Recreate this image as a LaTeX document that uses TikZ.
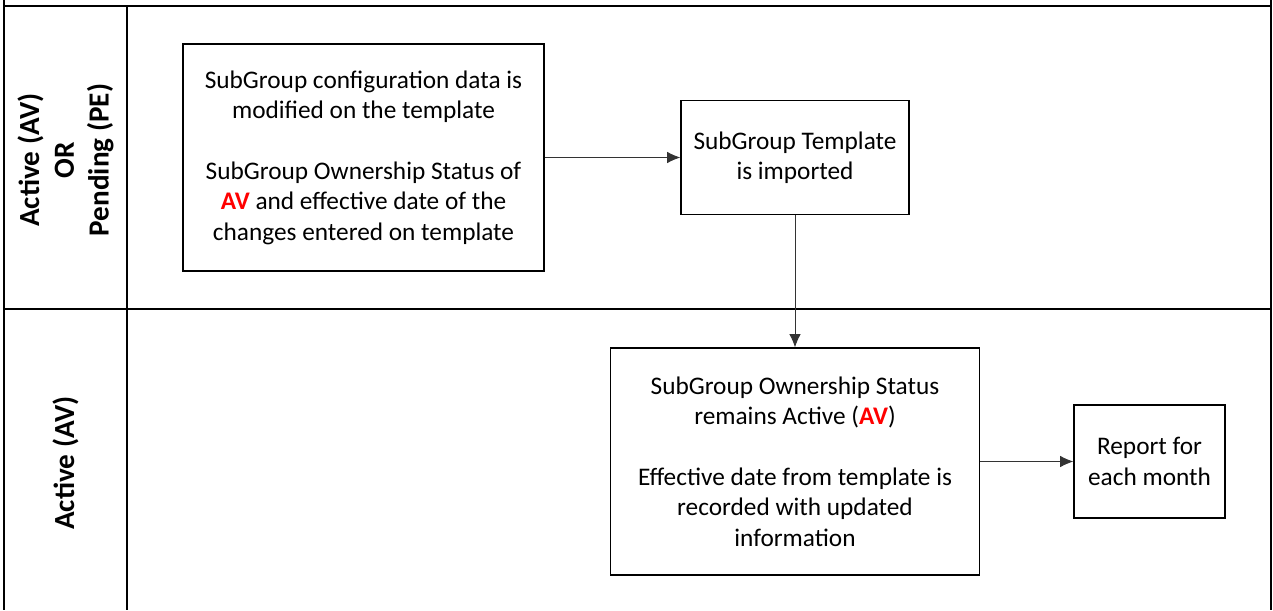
\documentclass[tikz,border=0pt]{standalone}
\usepackage{fontspec}
\setmainfont{Carlito}
\usepackage{xcolor}
\usetikzlibrary{arrows.meta}

\tikzset{
	step box/.style={draw, line width=0.7pt, align=center, inner sep=0pt},
	flow/.style={-{Latex[length=7.5pt,width=6.5pt]}, line width=0.5pt, draw=black!80},
	lane/.style={line width=1.1pt},
	lane label/.style={rotate=90, align=center, font=\fontsize{16.6}{19.8}\selectfont\bfseries}
}
\newcommand{\av}{{\color{red}\bfseries AV}}

\begin{document}
\begin{tikzpicture}[font=\fontsize{14.4}{17.3}\selectfont]
		\useasboundingbox (0,0) rectangle (25.46,12.2);
		% swimlanes
		\draw[lane] (0.08,12.2) -- (0.08,0);
		\draw[lane] (25.42,12.2) -- (25.42,0);
		\draw[lane] (0.08,12.08) -- (25.42,12.08);
		\draw[lane] (0.08,6.02) -- (25.42,6.02);
		\draw[lane] (2.54,12.08) -- (2.54,0);
		\node[lane label] (top lane) at (1.31,9.0){Active (AV)\\ OR\\ Pending (PE)};
		\node[lane label] (bottom lane) at (1.31,2.94){Active (AV)};
		% steps
		\node[step box, minimum width=7.22cm, minimum height=4.54cm] (modified) at (7.27,9.05){SubGroup configuration data is\\
			modified on the template\\[17.3pt]
			SubGroup Ownership Status of\\
			\av{} and effective date of the\\
			changes entered on template};
		\node[step box, minimum width=4.56cm, minimum height=2.28cm] (imported) at (15.9,9.05){SubGroup Template\\
			is imported};
		\node[step box, minimum width=7.38cm, minimum height=4.54cm] (remains) at (15.9,2.97){SubGroup Ownership Status\\
			remains Active (\av)\\[17.3pt]
			Effective date from template is\\
			recorded with updated\\
			information};
		\node[step box, minimum width=3.02cm, minimum height=2.26cm] (report) at (22.99,2.97){Report for\\
			each month};
		% connectors
		\draw[flow] (modified) -- (imported);
		\draw[flow] (imported) -- (remains);
		\draw[flow] (remains) -- (report);
	\end{tikzpicture}
\end{document}
